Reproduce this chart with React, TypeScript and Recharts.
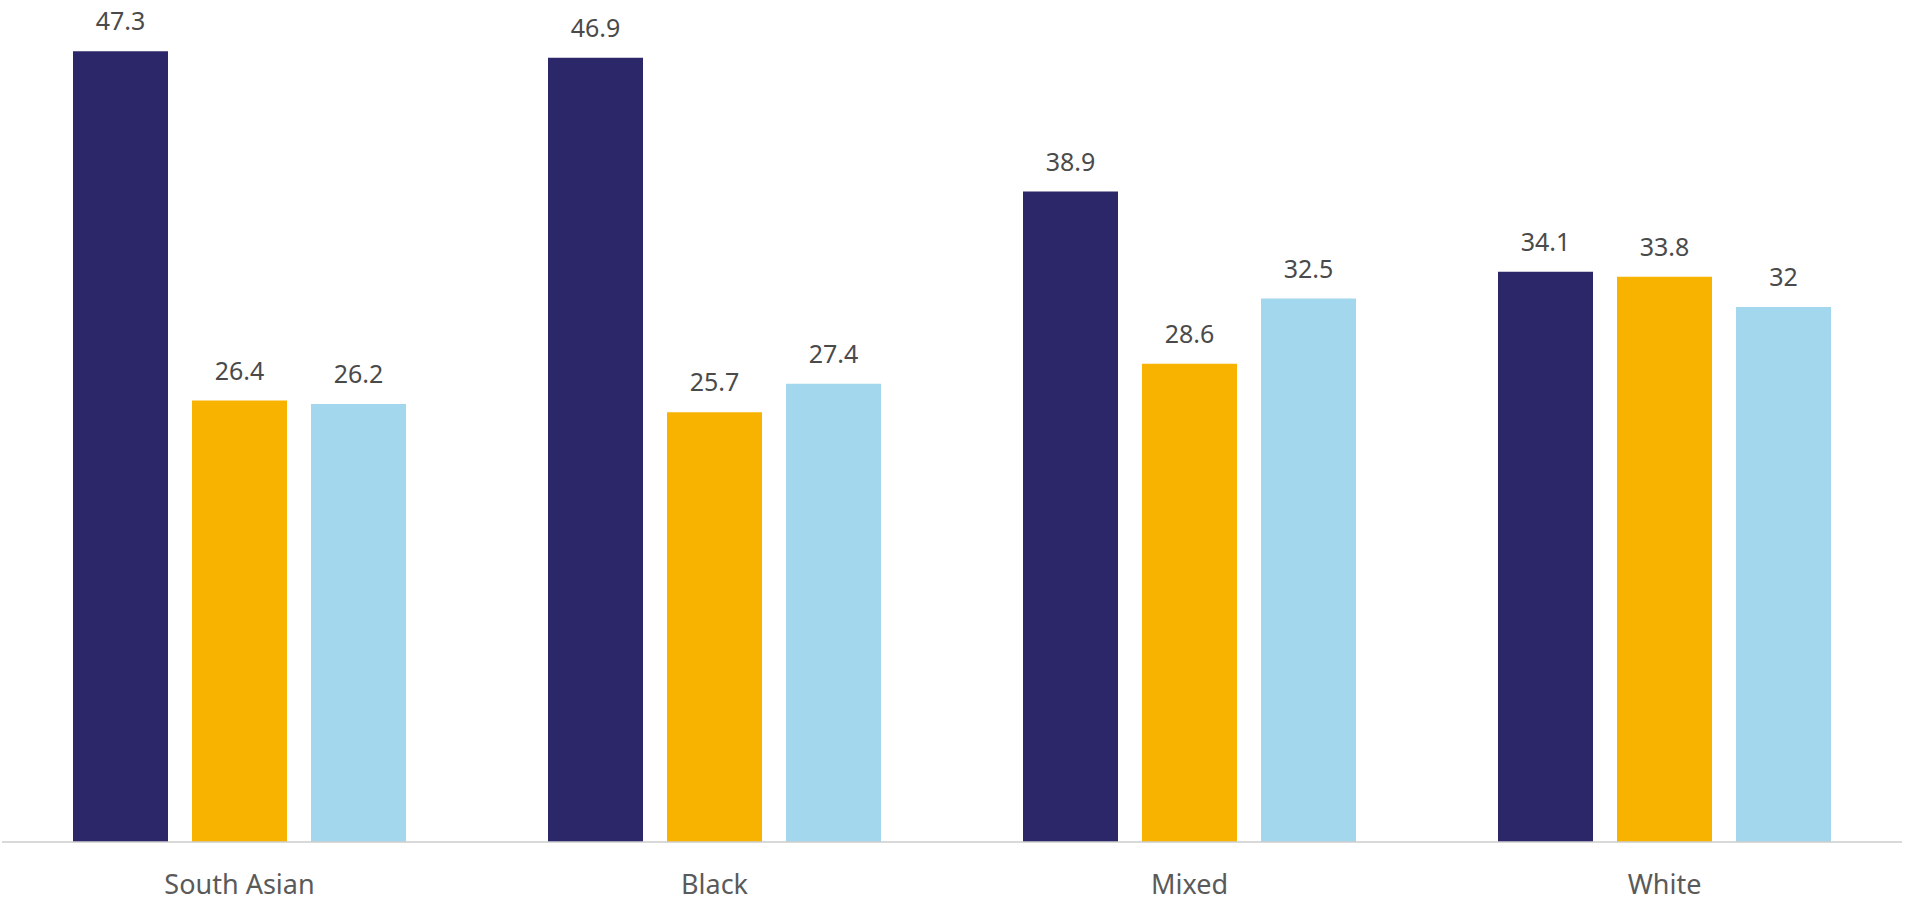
import { Bar, BarChart, LabelList, XAxis, YAxis } from "recharts";

const categories = ["South Asian", "Black", "Mixed", "White"];
const firstValues = [47.3, 46.9, 38.9, 34.1];
const secondValues = [26.4, 25.7, 28.6, 33.8];
const thirdValues = [26.2, 27.4, 32.5, 32];

const series = [
  { key: "first", color: "#2c2769" },
  { key: "second", color: "#f8b300" },
  { key: "third", color: "#a3d7ee" },
];

const data = categories.map((name, i) => ({
  name,
  first: firstValues[i],
  second: secondValues[i],
  third: thirdValues[i],
}));

const font = "'Noto Sans', sans-serif";

function CategoryTick({ x, y, payload }: any) {
  return (
    <text
      x={x}
      y={y + 52}
      textAnchor="middle"
      fill="#5a5a5a"
      fontSize={27}
      fontFamily={font}
    >
      {payload.value}
    </text>
  );
}

export default function App() {
  return (
    <div style={{ position: "absolute", left: 0, top: 0, background: "#fff" }}>
      <BarChart
        width={1906}
        height={901}
        data={data}
        margin={{ top: 6, right: 4, bottom: 0, left: 2 }}
        barSize={95}
        barGap={24}
      >
        <XAxis
          dataKey="name"
          height={59}
          tickLine={false}
          tickSize={0}
          tickMargin={0}
          axisLine={{ stroke: "#cccccc", strokeWidth: 1.5 }}
          tick={<CategoryTick />}
          interval={0}
        />
        <YAxis hide domain={[0, 50]} />
        {series.map((s) => (
          <Bar key={s.key} dataKey={s.key} fill={s.color} isAnimationActive={false}>
            <LabelList
              dataKey={s.key}
              position="top"
              offset={21}
              fill="#4a4a4a"
              fontSize={25}
              fontFamily={font}
            />
          </Bar>
        ))}
      </BarChart>
    </div>
  );
}
